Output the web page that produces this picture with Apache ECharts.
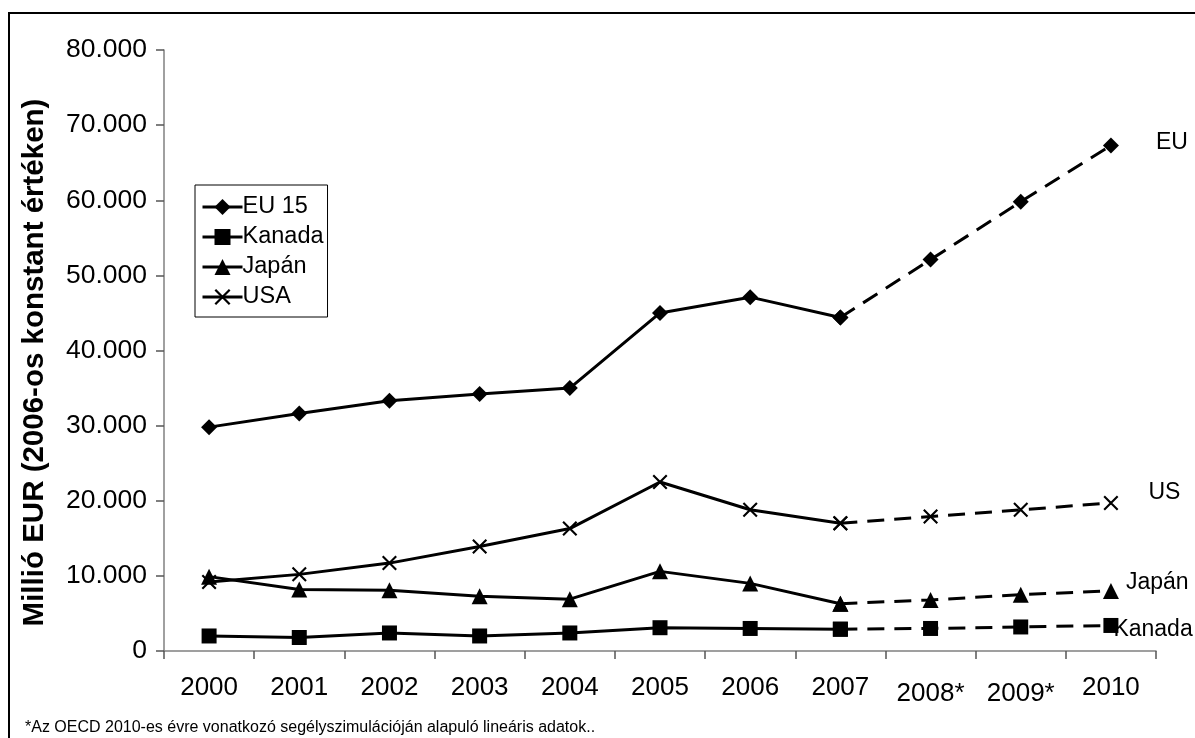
<!DOCTYPE html>
<html>
<head>
<meta charset="utf-8">
<script src="https://cdn.jsdelivr.net/npm/echarts@6/dist/echarts.min.js"></script>
<style>
  html, body { margin: 0; padding: 0; background: #fff; }
  #chart { width: 1195px; height: 738px; }
</style>
</head>
<body>
<div id="chart"></div>
<script>
// adatok (millió EUR, 2006-os konstans áron)
const years = ['2000', '2001', '2002', '2003', '2004', '2005', '2006', '2007', '2008*', '2009*', '2010'];
const eu15 = [29800, 31600, 33300, 34200, 35000, 45000, 47100, 44400, 52100, 59800, 67300];
const kanada = [2000, 1800, 2400, 2000, 2400, 3100, 3000, 2900, 3000, 3200, 3400];
const japan = [9900, 8200, 8100, 7300, 6900, 10600, 9000, 6300, 6800, 7500, 8000];
const usa = [9200, 10200, 11700, 13900, 16300, 22500, 18800, 17000, 17900, 18800, 19700];
const yTicks = [0, 10000, 20000, 30000, 40000, 50000, 60000, 70000, 80000];
const splitIdx = 7; // 2007 után becsült adatok

const FONT = 'Liberation Sans, Arial, sans-serif';
const xSymbol = 'path://M0,1L1,0L10,9L9,10ZM9,0L10,1L1,10L0,9Z';

const countries = [
  { name: 'EU 15', values: eu15, symbol: 'diamond', size: 16, endName: 'EU', labelDist: 37, labelOff: [0, -3] },
  { name: 'Kanada', values: kanada, symbol: 'rect', size: 15, endName: 'Kanada', labelDist: -5, labelOff: [0, 4] },
  { name: 'Japán', values: japan, symbol: 'triangle', size: 16, endName: 'Japán', labelDist: 7, labelOff: [0, -8] },
  { name: 'USA', values: usa, symbol: xSymbol, size: 15, endName: 'US', labelDist: 30, labelOff: [0, -10] }
];

function fmt(v) {
  return v === 0 ? '0' : (v / 1000).toFixed(0) + '.000';
}

const series = [];
countries.forEach(function (c) {
  // folytonos szakasz 2000-2007
  series.push({
    name: c.name,
    type: 'line',
    data: c.values.map((v, i) => (i <= splitIdx ? v : '-')),
    symbol: c.symbol,
    symbolSize: c.size,
    lineStyle: { color: '#000', width: 3 },
    itemStyle: { color: '#000' },
    z: 3
  });
  // szaggatott szakasz 2007-2010
  const last = c.values.length - 1;
  series.push({
    name: c.name + ' becslés',
    type: 'line',
    data: c.values.map((v, i) => {
      if (i < splitIdx) return '-';
      if (i === last) {
        return {
          value: v,
          label: {
            show: true,
            position: 'right',
            distance: c.labelDist,
            offset: c.labelOff,
            formatter: c.endName,
            color: '#000',
            fontFamily: FONT,
            fontSize: 23
          }
        };
      }
      return v;
    }),
    symbol: c.symbol,
    symbolSize: c.size,
    lineStyle: { color: '#000', width: 3, type: [17, 10] },
    itemStyle: { color: '#000' },
    z: 2
  });
});

const chart = echarts.init(document.getElementById('chart'), null, { renderer: 'canvas' });
chart.setOption({
  animation: false,
  backgroundColor: '#fff',
  textStyle: { fontFamily: FONT, color: '#000' },
  grid: { left: 164, right: 39, top: 50, bottom: 87, containLabel: false },
  legend: {
    data: countries.map(c => c.name),
    orient: 'vertical',
    left: 195,
    top: 185,
    itemWidth: 40,
    itemHeight: 20,
    itemGap: 6,
    padding: [10, 4, 8, 6],
    borderColor: '#000',
    borderWidth: 1,
    backgroundColor: '#fff',
    lineStyle: { width: 3 },
    textStyle: { fontFamily: FONT, fontSize: 23.5, color: '#000', padding: [0, 0, 0, -5] }
  },
  xAxis: {
    type: 'category',
    data: years.map(y => (y.indexOf('*') > 0 ? { value: y, textStyle: { padding: [6, 0, 0, 0] } } : y)),
    boundaryGap: true,
    axisLine: { lineStyle: { color: '#808080', width: 1.5 } },
    axisTick: { show: true, length: 8, interval: 0, lineStyle: { color: '#555', width: 1.5 } },
    axisLabel: { margin: 24, fontSize: 26, color: '#000', fontFamily: FONT, interval: 0 },
    splitLine: { show: false }
  },
  yAxis: {
    type: 'value',
    min: yTicks[0],
    max: yTicks[yTicks.length - 1],
    interval: yTicks[1] - yTicks[0],
    name: 'Millió EUR (2006-os konstant értéken)',
    nameLocation: 'middle',
    nameGap: 114,
    nameTextStyle: { fontFamily: FONT, fontSize: 29.5, fontWeight: 'bold', color: '#000', padding: [0, 24, 0, 0] },
    axisLine: { show: true, lineStyle: { color: '#808080', width: 1.5 } },
    axisTick: { show: true, length: 8, lineStyle: { color: '#555', width: 1.5 } },
    axisLabel: { margin: 17, fontSize: 26.5, color: '#000', fontFamily: FONT, formatter: fmt },
    splitLine: { show: false }
  },
  graphic: [
    {
      type: 'rect',
      shape: { x: 9, y: 13, width: 1300, height: 800 },
      style: { fill: 'none', stroke: '#000', lineWidth: 2 },
      silent: true,
      z: -10
    },
    {
      type: 'text',
      left: 25,
      top: 720,
      style: {
        text: '*Az OECD 2010-es évre vonatkozó segélyszimulációján alapuló lineáris adatok..',
        font: '16px ' + FONT,
        fill: '#000'
      }
    }
  ],
  series: series
});
</script>
</body>
</html>
